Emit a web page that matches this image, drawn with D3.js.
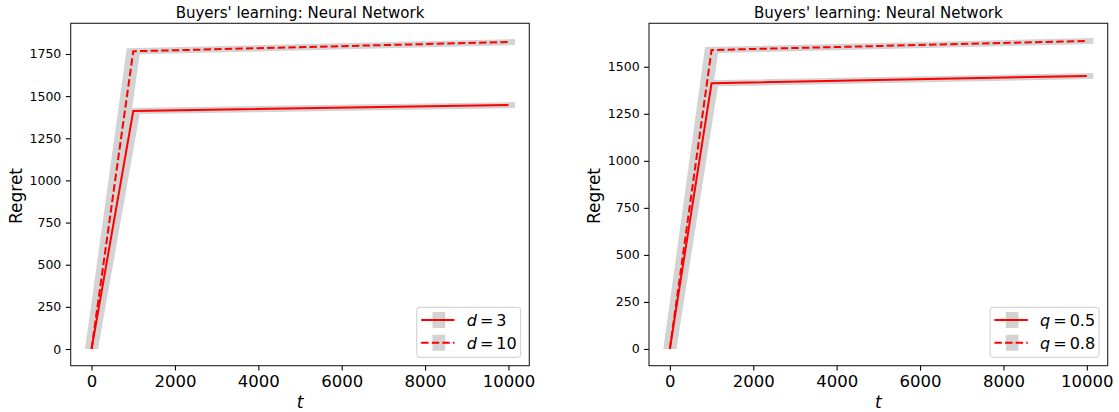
<!DOCTYPE html>
<html>
<head>
<meta charset="utf-8">
<script src="https://cdn.jsdelivr.net/npm/d3@7"></script>
<style>
  body { margin: 0; background: #fff; }
  text { font-family: "DejaVu Sans", sans-serif; fill: #000; }
</style>
</head>
<body>
<script>
var svgWidth = 1119;
var svgHeight = 412;

// data
var tSteps = [0, 1000, 10000];
var regretD3 = [0, 1412, 1447];
var regretD10 = [0, 1766, 1821];
var regretQ05 = [0, 1412, 1451];
var regretQ08 = [0, 1589, 1637];

var xTicks = [0, 2000, 4000, 6000, 8000, 10000];
var yTicksLeft = [0, 250, 500, 750, 1000, 1250, 1500, 1750];
var yTicksRight = [0, 250, 500, 750, 1000, 1250, 1500];

var legendLeft = [{sym: 'd', val: '3', dash: false}, {sym: 'd', val: '10', dash: true}];
var legendRight = [{sym: 'q', val: '0.5', dash: false}, {sym: 'q', val: '0.8', dash: true}];

var svg = d3.select('body').append('svg')
  .attr('width', svgWidth)
  .attr('height', svgHeight);

var drawPanel = function(opt){
  var x = d3.scaleLinear().domain([-500, 10500]).range([opt.left, opt.right]);
  var y = d3.scaleLinear().domain(opt.yDomain).range([365.7, 23.3]);
  var g = svg.append('g');

  // grey bands under each curve
  var hx = 6.5, hy = 3;
  opt.series.forEach(function(s){
    var px = tSteps.map(function(t){ return x(t); });
    var py = s.values.map(function(v){ return y(v); });
    var n = px.length - 1;
    var pts = [];
    for (var i = 0; i <= n; i++) {
      pts.push([px[i] - (i === n ? -hx : hx), py[i] - (i === 0 ? 0 : hy)]);
    }
    for (var j = n; j >= 0; j--) {
      pts.push([px[j] + hx, py[j] + (j === 0 ? 0 : hy)]);
    }
    g.append('polygon')
      .attr('points', pts.map(function(p){ return p.join(','); }).join(' '))
      .attr('fill', '#d3d3d3');
  });

  var line = d3.line()
    .x(function(d, i){ return x(tSteps[i]); })
    .y(function(d){ return y(d); });

  opt.series.forEach(function(s){
    g.append('path')
      .attr('d', line(s.values))
      .attr('fill', 'none')
      .attr('stroke', 'red')
      .attr('stroke-width', 2)
      .attr('stroke-dasharray', s.dash ? '7.4,3.2' : null);
  });

  // axes
  var fmt = d3.format('d');
  var xAxis = g.append('g')
    .attr('transform', 'translate(0,365.7)')
    .call(d3.axisBottom(x).tickValues(xTicks).tickFormat(fmt).tickSize(4.9).tickPadding(4.5).tickSizeOuter(0));
  xAxis.selectAll('text').style('font-size', '16.5px').attr('fill', '#000');
  var yAxis = g.append('g')
    .attr('transform', 'translate(' + opt.left + ',0)')
    .call(d3.axisLeft(y).tickValues(opt.yTicks).tickFormat(fmt).tickSize(4.9).tickPadding(4.5).tickSizeOuter(0));
  yAxis.selectAll('text').style('font-size', '12.5px').attr('fill', '#000');
  g.selectAll('.domain').remove();
  g.selectAll('.tick line').attr('stroke', '#000').attr('stroke-width', 1.1);
  g.selectAll('.tick text').style('font-family', '"DejaVu Sans", sans-serif');

  g.append('rect')
    .attr('x', opt.left).attr('y', 23.3)
    .attr('width', opt.right - opt.left).attr('height', 365.7 - 23.3)
    .attr('fill', 'none').attr('stroke', '#222').attr('stroke-width', 1.1);

  var mid = (opt.left + opt.right) / 2;
  g.append('text').text("Buyers' learning: Neural Network")
    .attr('x', mid).attr('y', 17.5)
    .attr('text-anchor', 'middle')
    .style('font-size', '15px');

  g.append('text')
    .attr('x', mid).attr('y', 408)
    .attr('text-anchor', 'middle')
    .style('font-size', '17px')
    .style('font-style', 'italic')
    .text('t');

  g.append('text').text('Regret')
    .attr('transform', 'translate(' + (opt.left - 55) + ',196) rotate(-90)')
    .attr('text-anchor', 'middle')
    .attr('dy', '0.35em')
    .style('font-size', '17px');

  // legend
  var lg = g.append('g');
  var box = lg.append('rect')
    .attr('fill', 'rgba(255,255,255,0.8)')
    .attr('stroke', '#ccc')
    .attr('stroke-width', 1)
    .attr('rx', 3);
  var maxW = 0;
  opt.legend.forEach(function(d, i){
    var row = lg.append('g').attr('transform', 'translate(0,' + (12.7 + i * 22.7) + ')');
    row.append('rect')
      .attr('x', 15.7).attr('y', -8).attr('width', 12.7).attr('height', 16)
      .attr('fill', '#d3d3d3');
    row.append('line')
      .attr('x1', 4.4).attr('x2', 37.7)
      .attr('stroke', 'red').attr('stroke-width', 2)
      .attr('stroke-dasharray', d.dash ? '7.4,3.2' : null);
    var t = row.append('text')
      .attr('x', 50).attr('y', 6)
      .style('font-size', '16px');
    t.append('tspan').style('font-style', 'italic').text(d.sym);
    t.append('tspan').attr('dx', 3).text('=');
    t.append('tspan').attr('dx', 3).text(d.val);
    var w = t.node().getComputedTextLength() + 6;
    if (w > maxW) { maxW = w; }
  });
  var lw = 50 + maxW + 4;
  box.attr('width', lw).attr('height', 50);
  lg.attr('transform', 'translate(' + (opt.right - 8.6 - lw) + ',' + (365.7 - 8.4 - 50) + ')');
};

drawPanel({
  left: 70.7, right: 529.3,
  yDomain: [-99, 1932],
  yTicks: yTicksLeft,
  series: [{values: regretD3, dash: false}, {values: regretD10, dash: true}],
  legend: legendLeft
});

drawPanel({
  left: 649, right: 1107.7,
  yDomain: [-89, 1731],
  yTicks: yTicksRight,
  series: [{values: regretQ05, dash: false}, {values: regretQ08, dash: true}],
  legend: legendRight
});
</script>
</body>
</html>
